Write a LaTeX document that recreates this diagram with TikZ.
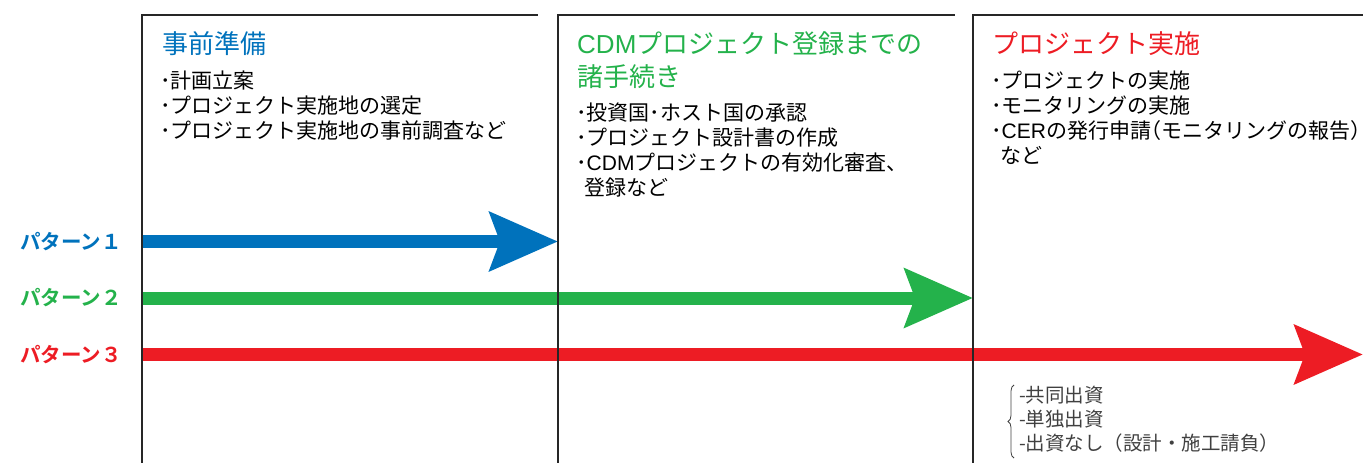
\documentclass[tikz,border=0pt]{standalone}
\usepackage{fontspec}
\newfontfamily\jp{Noto Sans CJK JP}[BoldFont={Noto Sans CJK JP Bold}]
\newfontfamily\jph{Noto Sans CJK JP}[RawFeature=+halt]
\newfontfamily\lat{Liberation Sans}
\usetikzlibrary{arrows.meta,decorations.pathreplacing}
\definecolor{cblue}{HTML}{0072BC}
\definecolor{cgreen}{HTML}{24B24B}
\definecolor{cred}{HTML}{ED1C24}
\definecolor{cgray}{HTML}{404040}
\tikzset{
  txt/.style={inner sep=0pt, anchor=base west, font=\jp\fontsize{21}{25}\selectfont},
  ttl/.style={inner sep=0pt, anchor=base west, font=\jp\fontsize{26}{31}\selectfont},
  lbl/.style={inner sep=0pt, anchor=base west, font=\jp\bfseries\fontsize{20.5}{24}\selectfont},
  subtxt/.style={inner sep=0pt, anchor=base west, text=cgray, font=\jp\fontsize{19.5}{24}\selectfont},
  frame/.style={line width=1.2pt, draw=black!85},
  bigarrow/.style={line width=13pt, -{Stealth[length=68pt,width=58pt,inset=10pt]}},
}
\begin{document}
\begin{tikzpicture}[x=1pt,y=-1pt]
\useasboundingbox (0,0) rectangle (1363,463);
% arrows
\coordinate (a1s) at (142,241.5); \coordinate (a1e) at (558,241.5);
\coordinate (a2s) at (142,298);   \coordinate (a2e) at (973,298);
\coordinate (a3s) at (142,354.5); \coordinate (a3e) at (1363,354.5);
\draw[bigarrow, draw=cblue, fill=cblue] (a1s) -- (a1e);
\draw[bigarrow, draw=cgreen, fill=cgreen] (a2s) -- (a2e);
\draw[bigarrow, draw=cred, fill=cred] (a3s) -- (a3e);
% frames
\draw[frame] (142,463) -- (142,15) -- (538,15);
\draw[frame] (558,463) -- (558,15) -- (955,15);
\draw[frame] (973,463) -- (973,15) -- (1363,15);
% box 1
\node[ttl, text=cblue] (t1) at (162,53) {事前準備};
\node[txt] (b11) at (160,88) {･計画立案};
\node[txt] (b12) at (160,113) {･プロジェクト実施地の選定};
\node[txt] (b13) at (160,138) {･プロジェクト実施地の事前調査など};
% box 2
\node[ttl, text=cgreen] (t2a) at (577,53) {{\lat CDM}プロジェクト登録までの};
\node[ttl, text=cgreen] (t2b) at (577,86) {諸手続き};
\node[txt] (b21) at (576,120) {･投資国･ホスト国の承認};
\node[txt] (b22) at (576,145) {･プロジェクト設計書の作成};
\node[txt] (b23) at (576,170) {･{\lat CDM}プロジェクトの有効化審査、};
\node[txt] (b24) at (584,195) {登録など};
% box 3
\node[ttl, text=cred] (t3) at (992,53) {プロジェクト実施};
\node[txt] (b31) at (991,88) {･プロジェクトの実施};
\node[txt] (b32) at (991,113) {･モニタリングの実施};
\node[txt] (b33) at (991,138) {･{\lat CER}の発行申請{\jph （}モニタリングの報告{\jph ）}};
\node[txt] (b34) at (1000,163) {など};
% labels
\node[lbl, text=cblue] (p1) at (20,249) {パターン１};
\node[lbl, text=cgreen] (p2) at (20,305) {パターン２};
\node[lbl, text=cred] (p3) at (20,362) {パターン３};
% brace
\draw[decorate, decoration={brace, amplitude=6pt}, draw=cgray, line width=0.8pt] (1014,458) -- (1014,385);
\node[subtxt] (s1) at (1019,402.5) {-共同出資};
\node[subtxt] (s2) at (1019,426.5) {-単独出資};
\node[subtxt] (s3) at (1019,450.5) {-出資なし（設計・施工請負）};
\end{tikzpicture}
\end{document}
